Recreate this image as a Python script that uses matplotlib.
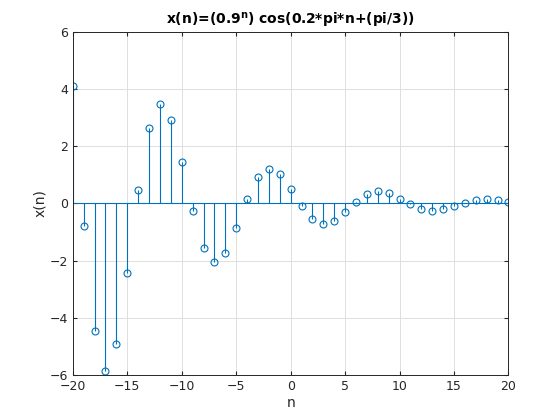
import matplotlib
matplotlib.use('Agg')
import matplotlib.pyplot as plt

# n = -20..20
n = list(range(-20, 21))
x = [4.113, -0.774, -4.458, -5.865, -4.930, -2.428, 0.457, 2.632, 3.463, 2.911,
     1.434, -0.270, -1.554, -2.045, -1.719, -0.847, 0.159, 0.918, 1.208, 1.015,
     0.500, -0.094, -0.542, -0.713, -0.599, -0.295, 0.056, 0.320, 0.421, 0.354,
     0.174, -0.033, -0.189, -0.249, -0.209, -0.103, 0.019, 0.112, 0.147, 0.123,
     0.061]
xticks = list(range(-20, 21, 5))
yticks = list(range(-6, 7, 2))

blue = (0, 0.447, 0.741)
dark = (0.15, 0.15, 0.15)

plt.rcParams['font.family'] = 'DejaVu Sans'
fig = plt.figure(figsize=(5.6, 4.2), dpi=100)
ax = fig.add_axes([0.13, 0.107, 0.778, 0.817])

ml, sl, bl = ax.stem(n, x)
plt.setp(sl, color=blue, linewidth=0.8)
plt.setp(ml, color=blue, markerfacecolor='none', markersize=5, markeredgewidth=0.8)
plt.setp(bl, color=blue, linewidth=0.8)

ax.set_xlim(-20, 20)
ax.set_ylim(-6, 6)
ax.set_xticks(xticks)
ax.set_yticks(yticks)
ax.grid(True, color=(0.87, 0.87, 0.87), linewidth=0.7)
ax.set_axisbelow(True)
ax.tick_params(direction='in', length=3, colors=dark, labelsize=9, top=True, right=True,
               labeltop=False, labelright=False)
for s in ax.spines.values():
    s.set_color(dark)
    s.set_linewidth(0.7)

ax.set_xlabel('n', color=dark, fontsize=10, labelpad=2)
ax.set_ylabel('x(n)', color=dark, fontsize=10, labelpad=2)
ax.set_title(r'x(n)=(0.9$^\mathbf{n}$) cos(0.2*pi*n+(pi/3))', fontsize=10,
             fontweight='bold', color='black', pad=5)

fig.savefig('out.png', dpi=100)
